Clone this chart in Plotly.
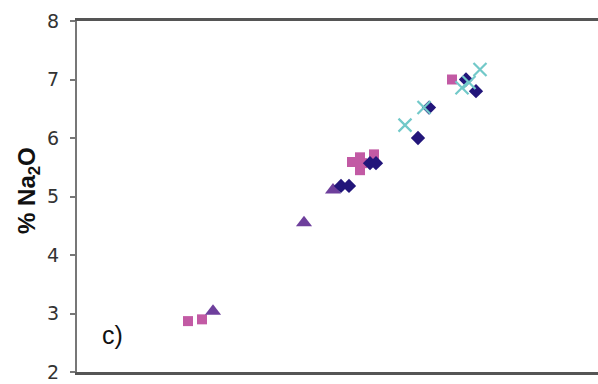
import plotly.graph_objects as go

# Sample groups: x = companion oxide (arbitrary units), y = % Na2O
sq_x = [2.22, 2.50, 5.50, 5.66, 5.66, 5.70, 5.94, 7.50]
sq_y = [2.87, 2.90, 5.59, 5.67, 5.45, 5.57, 5.72, 7.00]

tri_x = [2.72, 4.54, 5.12]
tri_y = [3.04, 4.55, 5.11]

dia_x = [5.28, 5.44, 5.86, 5.98, 6.82, 7.04, 7.78, 7.98]
dia_y = [5.18, 5.18, 5.57, 5.57, 6.00, 6.52, 7.00, 6.80]

cross_x = [6.56, 6.94, 7.70, 7.84, 8.06]
cross_y = [6.22, 6.52, 6.86, 6.95, 7.17]

y_ticks = [2, 3, 4, 5, 6, 7, 8]

fig = go.Figure()
fig.add_trace(go.Scatter(x=sq_x, y=sq_y, mode="markers",
                         marker=dict(symbol="square", size=10, color="#C25AA4")))
fig.add_trace(go.Scatter(x=tri_x, y=tri_y, mode="markers",
                         marker=dict(symbol="triangle-up", size=14, color="#6E3F9C")))
fig.add_trace(go.Scatter(x=dia_x, y=dia_y, mode="markers",
                         marker=dict(symbol="diamond", size=11, color="#22157A")))
fig.add_trace(go.Scatter(x=cross_x, y=cross_y, mode="markers",
                         marker=dict(symbol="x-thin", size=13, color="#72C9C9",
                                     line=dict(width=2.2, color="#72C9C9"))))

# panel label
fig.add_annotation(x=0.7, y=2.63, xref="x", yref="y", text="c)", showarrow=False,
                   font=dict(family="Liberation Sans, Arial", size=25, color="#111111"),
                   xanchor="center", yanchor="middle")

# rotated y-axis title
fig.add_annotation(x=-0.092, y=0.516, xref="paper", yref="paper",
                   text="<b>% Na<sub>2</sub>O</b>", textangle=-90, showarrow=False,
                   font=dict(family="Liberation Sans, Arial", size=24, color="#111111"),
                   xanchor="center", yanchor="middle")

fig.update_layout(
    width=598, height=384,
    margin=dict(l=77, r=0, t=21, b=12),
    paper_bgcolor="white", plot_bgcolor="white",
    showlegend=False,
)
fig.update_xaxes(range=[0, 10.42], showticklabels=False, ticks="", showgrid=False,
                 zeroline=False, showline=True, linecolor="#555555", linewidth=2.5,
                 mirror=True)
fig.update_yaxes(range=[2, 8], tickvals=y_ticks, ticks="outside", ticklen=5,
                 tickcolor="#777777", tickwidth=1.5, showgrid=False, zeroline=False,
                 showline=True, linecolor="#777777", linewidth=2,
                 ticklabelstandoff=7,
                 tickfont=dict(family="DejaVu Sans", size=19, color="#333333"))

fig.write_html("out.html")
